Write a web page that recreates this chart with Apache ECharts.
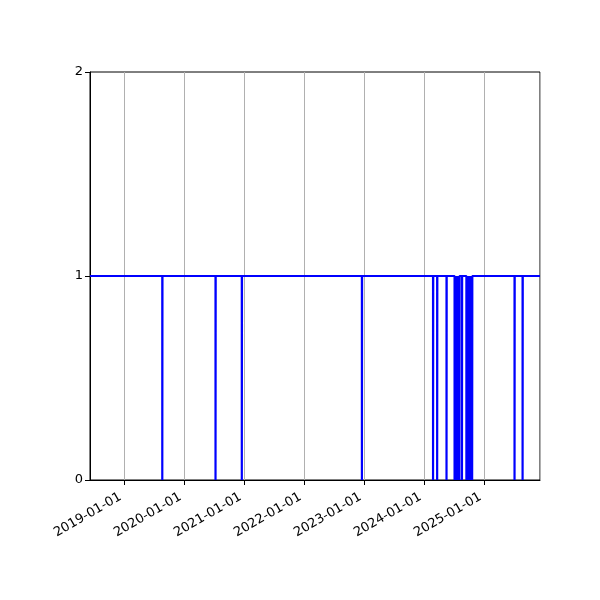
<!DOCTYPE html>
<html>
<head>
<meta charset="utf-8">
<script src="https://cdn.jsdelivr.net/npm/echarts@6/dist/echarts.min.js"></script>
<style>
  html, body { margin: 0; padding: 0; background: #fff; }
  #main { width: 600px; height: 600px; }
</style>
</head>
<body>
<div id="main"></div>
<script>
var startDate = '2018-06-08';
var endDate = '2025-12-07';
// days on which the status dropped to 0 (back to 1 the next day)
var dipDates = [
  '2019-08-22', '2020-07-11', '2020-12-18', '2022-12-19',
  '2024-02-25', '2024-03-21', '2024-05-17',
  '2024-07-05', '2024-07-11', '2024-07-17', '2024-07-23', '2024-07-29', '2024-08-03',
  '2024-08-19',
  '2024-09-15', '2024-09-21', '2024-09-27', '2024-10-03', '2024-10-09', '2024-10-15', '2024-10-20',
  '2025-07-05', '2025-08-23'
];
var yTicks = [0, 1, 2];

var DAY = 24 * 3600 * 1000;
function t(s) { return new Date(s + 'T00:00:00Z').getTime(); }

var points = [[t(startDate), 1]];
dipDates.forEach(function (d) {
  points.push([t(d), 0]);
  points.push([t(d) + DAY, 1]);
});
points.push([t(endDate), 1]);

var myChart = echarts.init(document.getElementById('main'));
var option = {
  animation: false,
  backgroundColor: '#fff',
  grid: {
    left: 90, right: 60, top: 72, bottom: 120,
    show: true, borderColor: '#000', borderWidth: 1, backgroundColor: 'transparent'
  },
  xAxis: {
    type: 'time',
    min: t(startDate),
    max: t(endDate),
    minInterval: 365 * DAY,
    maxInterval: 366 * DAY,
    axisLine: { show: true, lineStyle: { color: '#000', width: 1 } },
    axisTick: { show: true, inside: false, length: 5, lineStyle: { color: '#000' } },
    axisLabel: {
      rotate: 30,
      color: '#000',
      fontSize: 13,
      fontFamily: 'DejaVu Sans',
      margin: 14,
      showMinLabel: false,
      showMaxLabel: false,
      formatter: function (v) {
        return echarts.time.format(v, '{yyyy}-{MM}-{dd}', true) + ' ';
      }
    },
    splitLine: { show: true, lineStyle: { color: '#b0b0b0', width: 1 } },
    minorTick: { show: false }
  },
  yAxis: {
    type: 'value',
    min: yTicks[0],
    max: yTicks[yTicks.length - 1],
    interval: 1,
    axisLine: { show: true, lineStyle: { color: '#000', width: 1 } },
    axisTick: { show: true, inside: false, length: 5, lineStyle: { color: '#000' } },
    axisLabel: { color: '#000', fontSize: 13, fontFamily: 'DejaVu Sans', margin: 7 },
    splitLine: { show: false }
  },
  series: [{
    type: 'line',
    step: 'end',
    data: points,
    showSymbol: false,
    symbol: 'none',
    lineStyle: { color: '#0000ff', width: 2.2 },
    clip: true
  }]
};
myChart.setOption(option);
</script>
</body>
</html>
